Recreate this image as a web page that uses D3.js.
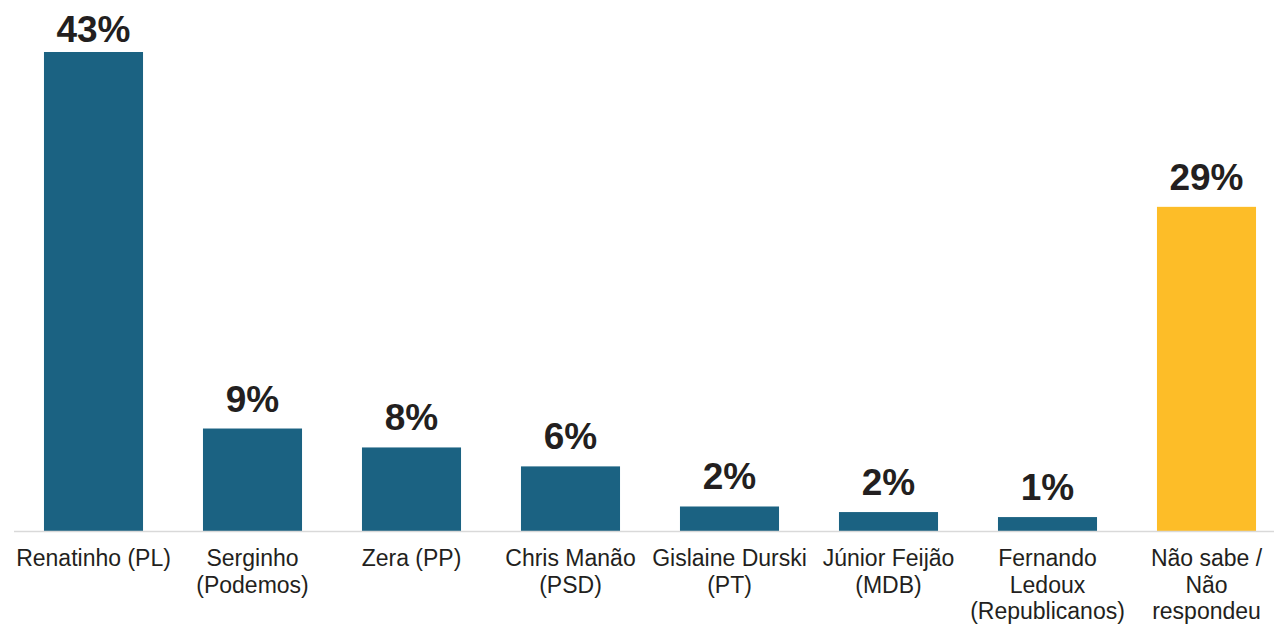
<!DOCTYPE html>
<html>
<head>
<meta charset="utf-8">
<script src="https://cdn.jsdelivr.net/npm/d3@7"></script>
<style>
  body { margin: 0; background: #fff; }
  text { font-family: "Liberation Sans", Arial, sans-serif; }
</style>
</head>
<body>
<svg id="chart"></svg>
<script>
// categories (line breaks as in the source)
const categories = [
  ["Renatinho (PL)"],
  ["Serginho", "(Podemos)"],
  ["Zera (PP)"],
  ["Chris Manão", "(PSD)"],
  ["Gislaine Durski", "(PT)"],
  ["Júnior Feijão", "(MDB)"],
  ["Fernando", "Ledoux", "(Republicanos)"],
  ["Não sabe /", "Não", "respondeu"]
];
const values = [43, 9.2, 7.5, 5.8, 2.2, 1.7, 1.25, 29.1];
const valueLabels = ["43%", "9%", "8%", "6%", "2%", "2%", "1%", "29%"];
const highlight = [false, false, false, false, false, false, false, true];

const w = 1274;
const h = 625;
const baseY = 531;

const svg = d3.select("#chart")
  .attr("width", w)
  .attr("height", h);

const x = d3.scaleBand()
  .domain(d3.range(categories.length))
  .range([14, 1286])
  .paddingInner(0.377)
  .paddingOuter(0.1885);

const y = d3.scaleLinear()
  .domain([0, 43])
  .range([baseY, 52]);

// bars
svg.selectAll("rect.bar")
  .data(values)
  .enter()
  .append("rect")
  .attr("class", "bar")
  .attr("x", (d, i) => x(i))
  .attr("y", d => y(d))
  .attr("width", x.bandwidth())
  .attr("height", d => baseY - y(d))
  .attr("fill", (d, i) => highlight[i] ? "#fdbd28" : "#1b6282");

// baseline
svg.append("line")
  .attr("x1", 14)
  .attr("x2", w)
  .attr("y1", baseY + 0.5)
  .attr("y2", baseY + 0.5)
  .attr("stroke", "#d9d9d9")
  .attr("stroke-width", 1.5);

// value labels (kept inside the top edge)
svg.selectAll("text.val")
  .data(values)
  .enter()
  .append("text")
  .attr("class", "val")
  .attr("x", (d, i) => x(i) + x.bandwidth() / 2)
  .attr("y", d => Math.max(42, y(d) - 17))
  .attr("text-anchor", "middle")
  .attr("font-size", 37)
  .attr("font-weight", "bold")
  .attr("fill", "#231f20")
  .text((d, i) => valueLabels[i]);

// category labels
const cat = svg.selectAll("text.cat")
  .data(categories)
  .enter()
  .append("text")
  .attr("class", "cat")
  .attr("text-anchor", "middle")
  .attr("font-size", 23)
  .attr("fill", "#231f20")
  .attr("transform", (d, i) => `translate(${x(i) + x.bandwidth() / 2},566)`);

cat.selectAll("tspan")
  .data(d => d)
  .enter()
  .append("tspan")
  .attr("x", 0)
  .attr("y", (d, i) => i * 26.5)
  .text(d => d);
</script>
</body>
</html>
